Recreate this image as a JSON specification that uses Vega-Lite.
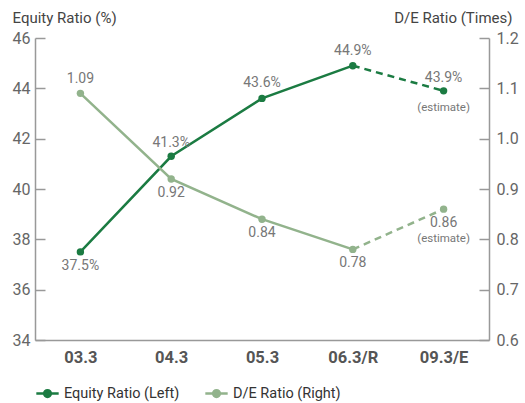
{
  "$schema": "https://vega.github.io/schema/vega-lite/v6.json",
  "width": 454,
  "height": 302,
  "autosize": "none",
  "padding": {"left": 35, "top": 38, "right": 36, "bottom": 63},
  "config": {
    "font": "Roboto",
    "view": {"stroke": null},
    "axis": {"grid": false, "domainColor": "#999", "domainWidth": 1.5, "tickColor": "#999", "tickWidth": 1.5, "labelColor": "#666", "titleColor": "#444", "titleFontWeight": "normal", "labelFont": "Roboto", "titleFont": "Roboto"}
  },
  "datasets": {
    "d": [
      {"period": "03.3", "series": "Equity Ratio (Left)", "value": 37.5, "label": "37.5%"},
      {"period": "04.3", "series": "Equity Ratio (Left)", "value": 41.3, "label": "41.3%"},
      {"period": "05.3", "series": "Equity Ratio (Left)", "value": 43.6, "label": "43.6%"},
      {"period": "06.3/R", "series": "Equity Ratio (Left)", "value": 44.9, "label": "44.9%"},
      {"period": "09.3/E", "series": "Equity Ratio (Left)", "value": 43.9, "label": "43.9%"},
      {"period": "03.3", "series": "D/E Ratio (Right)", "value": 1.09, "label": "1.09"},
      {"period": "04.3", "series": "D/E Ratio (Right)", "value": 0.92, "label": "0.92"},
      {"period": "05.3", "series": "D/E Ratio (Right)", "value": 0.84, "label": "0.84"},
      {"period": "06.3/R", "series": "D/E Ratio (Right)", "value": 0.78, "label": "0.78"},
      {"period": "09.3/E", "series": "D/E Ratio (Right)", "value": 0.86, "label": "0.86"}
    ]
  },
  "data": {"name": "d"},
  "encoding": {
    "x": {"field": "period", "type": "ordinal", "sort": ["03.3", "04.3", "05.3", "06.3/R", "09.3/E"],
      "scale": {"type": "point", "padding": 0.5},
      "axis": {"title": null, "labelAngle": 0, "ticks": false, "labelFontSize": 16.5, "labelFontWeight": "bold", "labelColor": "#555", "labelPadding": 9}},
    "color": {"field": "series", "type": "nominal",
      "scale": {"domain": ["Equity Ratio (Left)", "D/E Ratio (Right)"], "range": ["#1b7b42", "#92b38c"]},
      "legend": {"title": null, "orient": "none", "legendX": 0, "legendY": 343, "direction": "horizontal",
        "symbolType": "M -1 0 L 1 0 M 0.3 0 A 0.3 0.3 0 1 1 -0.3 0 A 0.3 0.3 0 1 1 0.3 0 Z",
        "symbolSize": 500, "symbolStrokeWidth": 2.5, "labelFontSize": 14.5, "labelColor": "#333", "columnPadding": 20, "labelOffset": 4,
        "encode": {"symbols": {"update": {"stroke": {"scale": "color", "field": "value"}, "fill": {"scale": "color", "field": "value"}}}}}
    }
  },
  "layer": [
    {
      "transform": [{"filter": "datum.series == 'Equity Ratio (Left)'"}],
      "encoding": {
        "y": {"field": "value", "type": "quantitative",
          "scale": {"domain": [34, 46], "nice": false, "zero": false},
          "axis": {"orient": "left", "values": [34, 36, 38, 40, 42, 44, 46], "tickSize": -10, "labelFontSize": 16, "labelPadding": 15,
            "title": "Equity Ratio (%)", "titleAngle": 0, "titleX": -23, "titleY": -21, "titleAlign": "left", "titleBaseline": "middle", "titleFontSize": 15}}
      },
      "layer": [
        {"transform": [{"filter": "datum.period != '09.3/E'"}], "mark": {"type": "line", "strokeWidth": 2.5}},
        {"transform": [{"filter": "datum.period == '06.3/R' || datum.period == '09.3/E'"}], "mark": {"type": "line", "strokeWidth": 2.5, "strokeDash": [7, 5]}},
        {"mark": {"type": "point", "filled": true, "size": 55, "opacity": 1}},
        {"transform": [{"filter": "datum.period == '03.3'"}], "mark": {"type": "text", "dy": 14, "fontSize": 14}, "encoding": {"text": {"field": "label"}, "color": {"value": "#777"}}},
        {"transform": [{"filter": "datum.period == '04.3' || datum.period == '09.3/E'"}], "mark": {"type": "text", "dy": -13, "fontSize": 14}, "encoding": {"text": {"field": "label"}, "color": {"value": "#777"}}},
        {"transform": [{"filter": "datum.period == '05.3' || datum.period == '06.3/R'"}], "mark": {"type": "text", "dy": -15, "fontSize": 14}, "encoding": {"text": {"field": "label"}, "color": {"value": "#777"}}},
        {"transform": [{"filter": "datum.period == '09.3/E'"}], "mark": {"type": "text", "dy": 17, "fontSize": 11.5, "text": "(estimate)"}, "encoding": {"color": {"value": "#777"}}}
      ]
    },
    {
      "transform": [{"filter": "datum.series == 'D/E Ratio (Right)'"}],
      "encoding": {
        "y": {"field": "value", "type": "quantitative",
          "scale": {"domain": [0.6, 1.2], "nice": false, "zero": false},
          "axis": {"orient": "right", "values": [0.6, 0.7, 0.8, 0.9, 1.0, 1.1, 1.2], "format": ".1f", "tickSize": -10, "labelFontSize": 16, "labelPadding": 17,
            "title": "D/E Ratio (Times)", "titleAngle": 0, "titleX": 23, "titleY": -21, "titleAlign": "right", "titleBaseline": "middle", "titleFontSize": 15}}
      },
      "layer": [
        {"transform": [{"filter": "datum.period != '09.3/E'"}], "mark": {"type": "line", "strokeWidth": 2.5}},
        {"transform": [{"filter": "datum.period == '06.3/R' || datum.period == '09.3/E'"}], "mark": {"type": "line", "strokeWidth": 2.5, "strokeDash": [7, 5]}},
        {"mark": {"type": "point", "filled": true, "size": 55, "opacity": 1}},
        {"transform": [{"filter": "datum.period == '03.3'"}], "mark": {"type": "text", "dy": -14, "fontSize": 14}, "encoding": {"text": {"field": "label"}, "color": {"value": "#777"}}},
        {"transform": [{"filter": "datum.period != '03.3'"}], "mark": {"type": "text", "dy": 14, "fontSize": 14}, "encoding": {"text": {"field": "label"}, "color": {"value": "#777"}}},
        {"transform": [{"filter": "datum.period == '09.3/E'"}], "mark": {"type": "text", "dy": 30, "fontSize": 11.5, "text": "(estimate)"}, "encoding": {"color": {"value": "#777"}}}
      ]
    }
  ],
  "resolve": {"scale": {"y": "independent"}}
}
